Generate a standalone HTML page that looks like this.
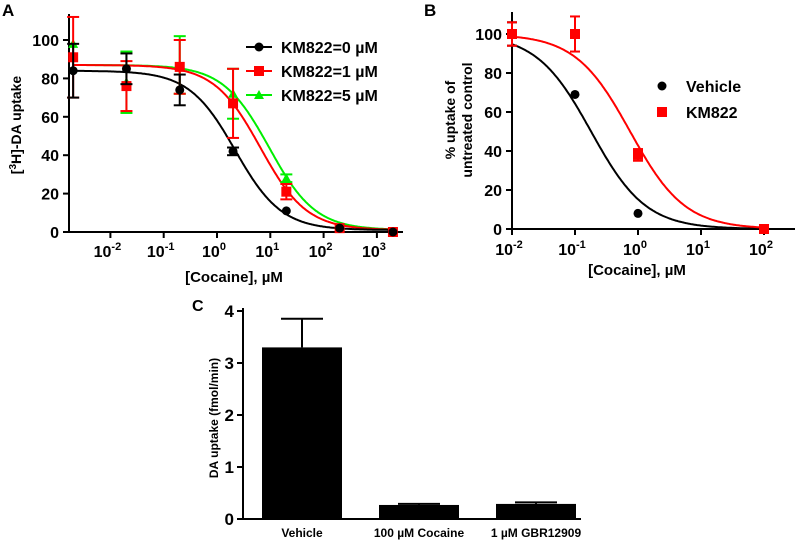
<!DOCTYPE html>
<html><head><meta charset="utf-8">
<style>
html,body{margin:0;padding:0;background:#fff;}
svg{display:block;font-family:"Liberation Sans",Arial,sans-serif;font-weight:bold;}
</style></head>
<body>
<svg id="fig" width="800" height="543" viewBox="0 0 800 543" xmlns="http://www.w3.org/2000/svg"></svg>
<script>
// Panel A data
const aConc = [0.002, 0.02, 0.2, 2, 20, 200, 2000];
const aBlack = [84, 85, 74, 42, 11, 2, 0];
const aBlackErr = [14, 8, 8, 2, 0, 0, 0];
const aRed = [91, 76, 86, 67, 21, 2, 0];
const aRedErr = [21, 13, 14, 18, 4, 0, 0];
const aGreen = [98, 78, 87, 72, 28, 3, 0];
const aGreenErr = [0, 16, 15, 13, 2, 0, 0];
const aFitTop = [84, 87, 87];
const aFitIC50 = [2.2, 6.5, 9.5];
const aYTicks = [0, 20, 40, 60, 80, 100];
const aXTickExp = [-2, -1, 0, 1, 2, 3];
// Panel B data
const bConc = [0.01, 0.1, 1, 100];
const bVehicle = [100, 69, 8, null];
const bVehicleErr = [6, 0, 0, 0];
const bKM = [100, 100, 38, 0];
const bKMErr = [6, 9, 3, 0];
const bFitIC50 = [0.18, 0.75];
const bYTicks = [0, 20, 40, 60, 80, 100];
const bXTickExp = [-2, -1, 0, 1, 2];
// Panel C data
const cCats = ["Vehicle", "100 \u00b5M Cocaine", "1 \u00b5M GBR12909"];
const cVals = [3.3, 0.27, 0.29];
const cErr = [0.55, 0.02, 0.03];
const cYTicks = [0, 1, 2, 3, 4];

const NS = "http://www.w3.org/2000/svg";
const svg = document.getElementById("fig");
function mk(tag, attrs, parent, text){
  const e = document.createElementNS(NS, tag);
  for (const k in attrs) e.setAttribute(k, attrs[k]);
  if (text !== undefined) e.textContent = text;
  (parent || svg).appendChild(e);
  return e;
}
function grp(name){
  const g = mk("g", {});
  
  
  return g;
}

// ---------- Panel A ----------
const ax = v => 217 + 53.3 * Math.log10(v);
const ay = v => 232 - 1.92 * v;
let g = grp("panel-a");
let t = mk("text", {x: 2, y: 16, "font-size": 17}, g, "A");
 
mk("line", {x1: 69, y1: 14, x2: 69, y2: 233, stroke: "#000", "stroke-width": 2}, g);
mk("line", {x1: 68, y1: 232, x2: 403, y2: 232, stroke: "#000", "stroke-width": 2}, g);
aYTicks.forEach(v => {
  mk("line", {x1: 63, y1: ay(v), x2: 69, y2: ay(v), stroke: "#000", "stroke-width": 2}, g);
  const tt = mk("text", {x: 59, y: ay(v) + 6, "font-size": 16, "text-anchor": "end"}, g, String(v));
   
});
aXTickExp.forEach(e => {
  const x = ax(Math.pow(10, e));
  mk("line", {x1: x, y1: 232, x2: x, y2: 238, stroke: "#000", "stroke-width": 2}, g);
  const tt = mk("text", {x: x - 3, y: 257, "font-size": 16, "text-anchor": "middle"}, g, "10");
  mk("tspan", {dy: -7, "font-size": 11}, tt, String(e));
   
});
t = mk("text", {x: 234, y: 282, "font-size": 15, "text-anchor": "middle"}, g, "[Cocaine], \u00b5M");
 
t = mk("text", {transform: "translate(21,125) rotate(-90)", "font-size": 14, "text-anchor": "middle"}, g);
mk("tspan", {}, t, "[");
mk("tspan", {dy: -5, "font-size": 10}, t, "3");
mk("tspan", {dy: 5}, t, "H]-DA uptake");
 

const aColors = ["#000", "#ff0000", "#00ee00"];
const aSeries = [aBlack, aRed, aGreen];
const aErrs = [aBlackErr, aRedErr, aGreenErr];
[2, 1, 0].forEach(i => {
  let d = "";
  for (let lx = Math.log10(0.002); lx <= Math.log10(2000); lx += 0.02) {
    const c = Math.pow(10, lx);
    const y = 1 + (aFitTop[i] - 1) / (1 + c / aFitIC50[i]);
    d += (d ? "L" : "M") + ax(c).toFixed(1) + "," + ay(y).toFixed(1);
  }
  const p = mk("path", {d: d, fill: "none", stroke: aColors[i], "stroke-width": 2}, g);
   
});
[2, 1, 0].forEach(i => {
  aSeries[i].forEach((v, j) => {
    const x = ax(aConc[j]);
    const e = aErrs[i][j];
    if (e > 0) {
      mk("line", {x1: x, y1: ay(v - e), x2: x, y2: ay(v + e), stroke: aColors[i], "stroke-width": 2}, g);
      mk("line", {x1: x - 6, y1: ay(v + e), x2: x + 6, y2: ay(v + e), stroke: aColors[i], "stroke-width": 2}, g);
      mk("line", {x1: x - 6, y1: ay(v - e), x2: x + 6, y2: ay(v - e), stroke: aColors[i], "stroke-width": 2}, g);
    }
    let m;
    if (i === 0) m = mk("circle", {cx: x, cy: ay(v), r: 4.5, fill: "#000"}, g);
    else if (i === 1) m = mk("rect", {x: x - 5, y: ay(v) - 5, width: 10, height: 10, fill: "#ff0000"}, g);
    else m = mk("polygon", {points: `${x},${ay(v)-5} ${x-5},${ay(v)+4} ${x+5},${ay(v)+4}`, fill: "#00ee00"}, g);
     
  });
});
const aLeg = ["KM822=0 \u00b5M", "KM822=1 \u00b5M", "KM822=5 \u00b5M"];
aLeg.forEach((s, i) => {
  const y = 47 + i * 24;
  const lg = mk("g", {}, g);
   
  mk("line", {x1: 246, y1: y, x2: 272, y2: y, stroke: aColors[i], "stroke-width": 2}, lg);
  if (i === 0) mk("circle", {cx: 259, cy: y, r: 4.5, fill: "#000"}, lg);
  else if (i === 1) mk("rect", {x: 254, y: y - 5, width: 10, height: 10, fill: "#ff0000"}, lg);
  else mk("polygon", {points: `259,${y-5} 254,${y+4} 264,${y+4}`, fill: "#00ee00"}, lg);
  mk("text", {x: 281, y: y + 6, "font-size": 16}, lg, s);
});

// ---------- Panel B ----------
const bx = v => 638 + 63 * Math.log10(v);
const by = v => 229 - 1.95 * v;
g = grp("panel-b");
t = mk("text", {x: 424, y: 16, "font-size": 17}, g, "B");
 
mk("line", {x1: 512, y1: 12, x2: 512, y2: 230, stroke: "#000", "stroke-width": 2}, g);
mk("line", {x1: 511, y1: 229, x2: 795, y2: 229, stroke: "#000", "stroke-width": 2}, g);
bYTicks.forEach(v => {
  mk("line", {x1: 506, y1: by(v), x2: 512, y2: by(v), stroke: "#000", "stroke-width": 2}, g);
  const tt = mk("text", {x: 502, y: by(v) + 6, "font-size": 16, "text-anchor": "end"}, g, String(v));
   
});
bXTickExp.forEach(e => {
  const x = bx(Math.pow(10, e));
  mk("line", {x1: x, y1: 229, x2: x, y2: 235, stroke: "#000", "stroke-width": 2}, g);
  const tt = mk("text", {x: x - 3, y: 255, "font-size": 16, "text-anchor": "middle"}, g, "10");
  mk("tspan", {dy: -7, "font-size": 11}, tt, String(e));
   
});
t = mk("text", {x: 637, y: 275, "font-size": 15, "text-anchor": "middle"}, g, "[Cocaine], \u00b5M");
 
t = mk("text", {transform: "translate(455,120) rotate(-90)", "font-size": 14, "text-anchor": "middle"}, g, "% uptake of");
 
t = mk("text", {transform: "translate(472,120) rotate(-90)", "font-size": 14, "text-anchor": "middle"}, g, "untreated control");
 
const bColors = ["#000", "#ff0000"];
[0, 1].forEach(i => {
  let d = "";
  for (let lx = -2; lx <= 2; lx += 0.02) {
    const c = Math.pow(10, lx);
    const y = 100 / (1 + c / bFitIC50[i]);
    d += (d ? "L" : "M") + bx(c).toFixed(1) + "," + by(y).toFixed(1);
  }
  const p = mk("path", {d: d, fill: "none", stroke: bColors[i], "stroke-width": 2}, g);
   
});
[[bVehicle, bVehicleErr], [bKM, bKMErr]].forEach((s, i) => {
  s[0].forEach((v, j) => {
    if (v === null) return;
    const x = bx(bConc[j]);
    const e = s[1][j];
    if (e > 0) {
      mk("line", {x1: x, y1: by(v - e), x2: x, y2: by(v + e), stroke: bColors[i], "stroke-width": 2}, g);
      mk("line", {x1: x - 5, y1: by(v + e), x2: x + 5, y2: by(v + e), stroke: bColors[i], "stroke-width": 2}, g);
      mk("line", {x1: x - 5, y1: by(v - e), x2: x + 5, y2: by(v - e), stroke: bColors[i], "stroke-width": 2}, g);
    }
    let m;
    if (i === 0) m = mk("circle", {cx: x, cy: by(v), r: 4.5, fill: "#000"}, g);
    else m = mk("rect", {x: x - 5, y: by(v) - 5, width: 10, height: 10, fill: "#ff0000"}, g);
     
  });
});
let lg = mk("g", {}, g);
 
mk("circle", {cx: 662, cy: 86, r: 4.5, fill: "#000"}, lg);
mk("text", {x: 686, y: 92, "font-size": 16}, lg, "Vehicle");
lg = mk("g", {}, g);
 
mk("rect", {x: 657, y: 107, width: 10, height: 10, fill: "#ff0000"}, lg);
mk("text", {x: 686, y: 118, "font-size": 16}, lg, "KM822");

// ---------- Panel C ----------
const cy = v => 519 - 52 * v;
const cx0 = [262, 379, 496];
const bw = 80;
g = grp("panel-c");
t = mk("text", {x: 192, y: 311, "font-size": 16}, g, "C");
 
cVals.forEach((v, i) => {
  const x = cx0[i];
  const e = cErr[i];
  mk("line", {x1: x + bw / 2, y1: cy(v), x2: x + bw / 2, y2: cy(v + e), stroke: "#000", "stroke-width": 2}, g);
  mk("line", {x1: x + bw / 2 - 21, y1: cy(v + e), x2: x + bw / 2 + 21, y2: cy(v + e), stroke: "#000", "stroke-width": 2}, g);
  const r = mk("rect", {x: x, y: cy(v), width: bw, height: cy(0) - cy(v), fill: "#000"}, g);
   
  const tt = mk("text", {x: x + bw / 2, y: 537, "font-size": 12, "text-anchor": "middle"}, g, cCats[i]);
   
});
mk("line", {x1: 243, y1: 308, x2: 243, y2: 520, stroke: "#000", "stroke-width": 2}, g);
mk("line", {x1: 242, y1: 519, x2: 581, y2: 519, stroke: "#000", "stroke-width": 2}, g);
cYTicks.forEach(v => {
  mk("line", {x1: 237, y1: cy(v), x2: 243, y2: cy(v), stroke: "#000", "stroke-width": 2}, g);
  const tt = mk("text", {x: 234, y: cy(v) + 6, "font-size": 17, "text-anchor": "end"}, g, String(v));
   
});
t = mk("text", {transform: "translate(218,418) rotate(-90)", "font-size": 12, "text-anchor": "middle"}, g, "DA uptake (fmol/min)");
 
</script>
</body></html>
